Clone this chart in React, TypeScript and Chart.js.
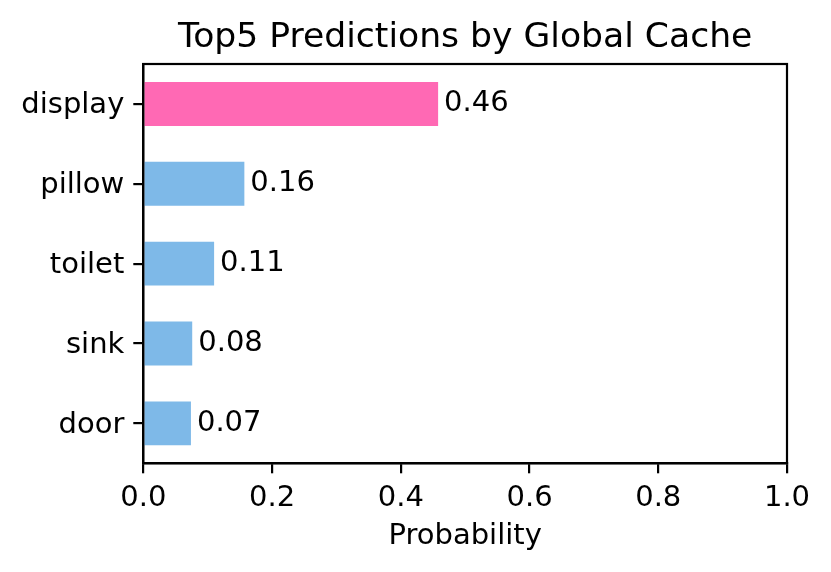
import React, { useEffect, useRef } from "react";
import { Chart, registerables } from "chart.js";

Chart.register(...registerables);

const categories = ["display", "pillow", "toilet", "sink", "door"];
const probabilities = [0.458, 0.157, 0.11, 0.076, 0.074];
const xTicks = [0, 0.2, 0.4, 0.6, 0.8, 1.0];
const titleText = "Top5 Predictions by Global Cache";
const xLabel = "Probability";

const FONT = "'DejaVu Sans', sans-serif";
const PINK = "#FF69B4";
const BLUE = "#7EB9E8";
const TICK_SIZE = 29;
const TITLE_SIZE = 34.6;

export default function App() {
  const ref = useRef<HTMLCanvasElement | null>(null);

  useEffect(() => {
    if (!ref.current) return;

    const framePlugin = {
      id: "frame",
      afterDraw(chart: any) {
        const { ctx, chartArea } = chart;
        ctx.save();
        ctx.strokeStyle = "#000";
        ctx.lineWidth = 2.2;
        ctx.strokeRect(chartArea.left, chartArea.top, chartArea.right - chartArea.left, chartArea.bottom - chartArea.top);
        ctx.fillStyle = "#000";
        ctx.font = `${TITLE_SIZE}px ${FONT}`;
        ctx.textAlign = "center";
        ctx.textBaseline = "alphabetic";
        ctx.fillText(titleText, (chartArea.left + chartArea.right) / 2, chartArea.top - 17);
        ctx.restore();
      },
      afterDatasetsDraw(chart: any) {
        const { ctx } = chart;
        const meta = chart.getDatasetMeta(0);
        ctx.save();
        ctx.fillStyle = "#000";
        ctx.font = `${TICK_SIZE}px ${FONT}`;
        ctx.textAlign = "left";
        ctx.textBaseline = "middle";
        meta.data.forEach((el: any, i: number) => {
          const v = chart.data.datasets[0].data[i] as number;
          ctx.fillText(v.toFixed(2), el.x + 6, el.y);
        });
        ctx.restore();
      },
    };

    const chart = new Chart(ref.current, {
      type: "bar",
      data: {
        labels: categories,
        datasets: [
          {
            data: probabilities,
            backgroundColor: (c: any) => (c.dataIndex === 0 ? PINK : BLUE),
            borderWidth: 0,
            barPercentage: 0.55,
            categoryPercentage: 1.0,
          },
        ],
      },
      options: {
        indexAxis: "y",
        animation: false,
        responsive: false,
        devicePixelRatio: 1,
        layout: { padding: { top: 64, right: 44, left: 0, bottom: 0 } },
        plugins: {
          legend: { display: false },
          tooltip: { enabled: false },
          title: { display: false },
        },
        scales: {
          x: {
            type: "linear",
            min: 0,
            max: 1,
            afterBuildTicks: (scale: any) => {
              scale.ticks = xTicks.map((v) => ({ value: v }));
            },
            afterFit: (scale: any) => {
              scale.height = 108.7;
            },
            ticks: {
              color: "#000",
              font: { family: FONT, size: TICK_SIZE },
              padding: 8,
              maxRotation: 0,
              callback: (v: any) => Number(v).toFixed(1),
            },
            grid: {
              drawOnChartArea: false,
              drawTicks: true,
              tickLength: 10,
              color: "#000",
              lineWidth: 2.2,
            },
            border: { display: true, color: "#000", width: 2.2 },
            title: {
              display: true,
              text: xLabel,
              color: "#000",
              font: { family: FONT, size: TICK_SIZE },
              padding: { top: 0, bottom: 18 },
            },
          },
          y: {
            type: "category",
            afterFit: (scale: any) => {
              scale.width = 143.3;
            },
            ticks: {
              color: "#000",
              font: { family: FONT, size: TICK_SIZE },
              padding: 9,
              labelOffset: 2,
            },
            grid: {
              offset: false,
              drawOnChartArea: false,
              drawTicks: true,
              tickLength: 10,
              color: "#000",
              lineWidth: 2.2,
            },
            border: { display: true, color: "#000", width: 2.2 },
          },
        },
      },
      plugins: [framePlugin],
    } as any);

    return () => chart.destroy();
  }, []);

  return (
    <div style={{ position: "fixed", left: 0, top: 0, width: 831, height: 572, background: "#fff" }}>
      <canvas ref={ref} width={831} height={572} style={{ width: 831, height: 572, display: "block" }} />
    </div>
  );
}
